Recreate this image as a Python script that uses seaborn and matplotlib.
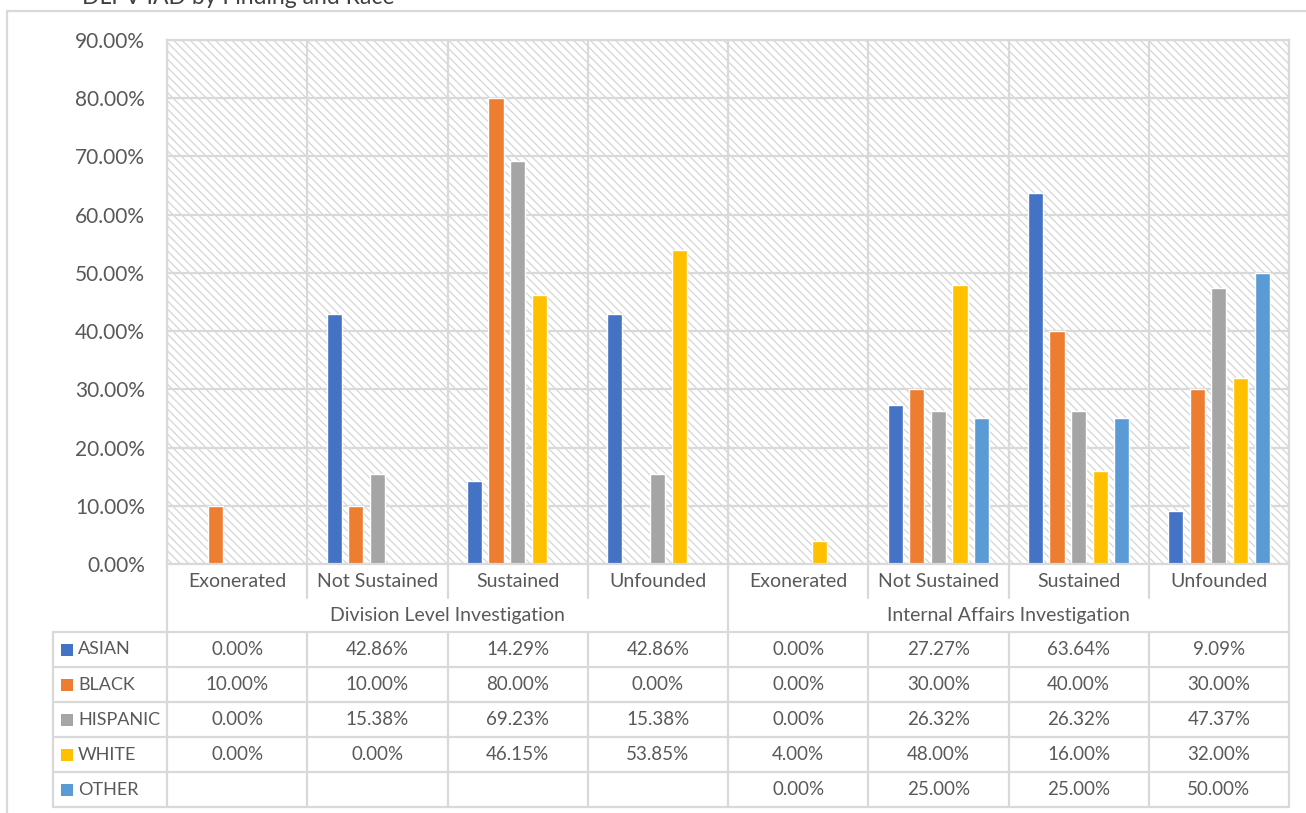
import numpy as np
import pandas as pd
import matplotlib
matplotlib.use("Agg")
import matplotlib.pyplot as plt
import seaborn as sns
from matplotlib.patches import Rectangle
from matplotlib.lines import Line2D
from matplotlib.ticker import PercentFormatter, FixedLocator
import matplotlib.transforms as mtransforms

groups = ['Division Level Investigation', 'Internal Affairs Investigation']
findings = ['Exonerated', 'Not Sustained', 'Sustained', 'Unfounded']
races = ['ASIAN', 'BLACK', 'HISPANIC', 'WHITE', 'OTHER']
colors = ['#4472C4', '#ED7D31', '#A5A5A5', '#FFC000', '#5B9BD5']

# percent values, division (4) then internal affairs (4)
asian = [0.00, 42.86, 14.29, 42.86, 0.00, 27.27, 63.64, 9.09]
black = [10.00, 10.00, 80.00, 0.00, 0.00, 30.00, 40.00, 30.00]
hispanic = [0.00, 15.38, 69.23, 15.38, 0.00, 26.32, 26.32, 47.37]
white = [0.00, 0.00, 46.15, 53.85, 4.00, 48.00, 16.00, 32.00]
other = [np.nan, np.nan, np.nan, np.nan, 0.00, 25.00, 25.00, 50.00]
series = [asian, black, hispanic, white, other]

cats = [g + '|' + f for g in groups for f in findings]
rows = []
for r, vals in zip(races, series):
    for c, v in zip(cats, vals):
        rows.append({'cat': c, 'race': r, 'val': v / 100})
df = pd.DataFrame(rows)

sns.set_style('white')
plt.rcParams['font.family'] = ['Lato', 'DejaVu Sans']

W, H = 1306, 813
fig = plt.figure(figsize=(W / 100, H / 100), dpi=100)
L, R, T, B = 167, 1289, 40, 564
ax = fig.add_axes([L / W, 1 - B / H, (R - L) / W, (B - T) / H])

grid_c = '#d9d9d9'
txt_c = '#595959'

sns.barplot(data=df, x='cat', y='val', hue='race', order=cats, hue_order=races,
            palette=colors, width=0.77, saturation=1, legend=False, ax=ax,
            errorbar=None, zorder=2)
# thinner bars with gaps, like the Excel original
for cont in ax.containers:
    for bar in cont:
        w = bar.get_width()
        nw = w * 0.7
        bar.set_x(bar.get_x() + (w - nw) / 2)
        bar.set_width(nw)

ax.set_xlim(-0.5, 7.5)
ax.set_ylim(0, 0.9)
ax.set_yticks(np.arange(0, 0.91, 0.1))
ax.yaxis.set_major_formatter(PercentFormatter(1.0, decimals=2))
ax.set_xticks([])
ax.xaxis.set_minor_locator(FixedLocator(np.arange(-0.5, 8, 1)))
ax.set_xlabel('')
ax.set_ylabel('')
ax.tick_params(axis='y', length=0, pad=16, labelsize=15, labelcolor=txt_c)
ax.tick_params(axis='x', which='both', length=0)
ax.grid(axis='y', color=grid_c, lw=1.6)
ax.grid(axis='x', which='minor', color=grid_c, lw=1.6)
ax.set_axisbelow(True)
for s in ax.spines.values():
    s.set_color(grid_c)
    s.set_linewidth(1.6)

plt.rcParams['hatch.linewidth'] = 0.9
bg = Rectangle((0, 0), 1, 1, transform=ax.transAxes, facecolor='white',
               edgecolor='#d4d4d4', hatch='\\\\\\\\', lw=0, zorder=0.1)
ax.add_patch(bg)

# lower part: category labels, group labels and data table
trans = mtransforms.blended_transform_factory(ax.transData, ax.transAxes)


def ay(y):
    return (B - y) / (B - T)


def fx(x):
    return x / W


def fy(y):
    return 1 - y / H


for i in range(9):
    xb = -0.5 + i
    y_end = 632 if i in (0, 4, 8) else 598
    ax.add_line(Line2D([xb, xb], [0, ay(y_end)], transform=trans, color=grid_c,
                       lw=1.6, clip_on=False))
    ax.add_line(Line2D([xb, xb], [ay(632), ay(807)], transform=trans, color=grid_c,
                       lw=1.6, clip_on=False))

for i, c in enumerate(cats):
    ax.text(i, ay(581), c.split('|')[1], transform=trans, ha='center', va='center',
            fontsize=14, color=txt_c)
for g, gname in enumerate(groups):
    ax.text(g * 4 + 1.5, ay(615), gname, transform=trans, ha='center', va='center',
            fontsize=14, color=txt_c)

row_y = [632, 667, 702, 737, 772, 807]
for y in row_y:
    fig.add_artist(Line2D([fx(53), fx(R)], [fy(y), fy(y)], color=grid_c, lw=1.6))
fig.add_artist(Line2D([fx(53), fx(53)], [fy(632), fy(807)], color=grid_c, lw=1.6))

for k, (r, vals, col) in enumerate(zip(races, series, colors)):
    yc = (row_y[k] + row_y[k + 1]) / 2
    fig.add_artist(Rectangle((fx(61), fy(yc + 6)), 12 / W, 12 / H, facecolor=col,
                             edgecolor='none'))
    fig.text(fx(78), fy(yc), r, ha='left', va='center', fontsize=13, color=txt_c)
    for i, v in enumerate(vals):
        if not np.isnan(v):
            ax.text(i, ay(yc), f'{v:.2f}%', transform=trans, ha='center',
                    va='center', fontsize=13.5, color=txt_c)

# chart area border and the title, clipped at the top as in the source
fig.add_artist(Line2D([fx(7), fx(W)], [fy(11.5), fy(11.5)], color=grid_c, lw=1.6))
fig.add_artist(Line2D([fx(7), fx(7)], [fy(11.5), fy(H)], color=grid_c, lw=1.6))
fig.text(fx(82), fy(4), 'DLPV IAD by Finding and Race', ha='left', va='baseline',
         fontsize=16.5, color='#404040')

fig.savefig('out.png', dpi=100)
